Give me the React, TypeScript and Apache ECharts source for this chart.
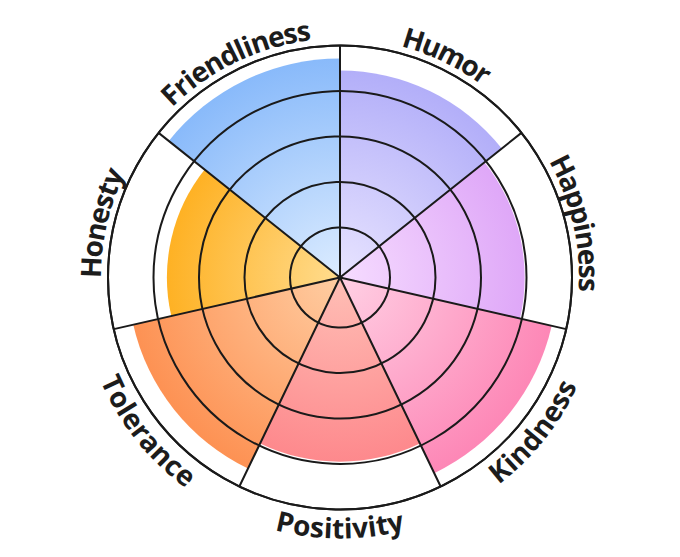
import React, { useEffect, useRef } from "react";
import * as echarts from "echarts";

const CATEGORIES = ["Humor", "Happiness", "Kindness", "Positivity", "Tolerance", "Honesty", "Friendliness"];
const VALUES = [4.46, 3.98, 4.68, 3.97, 4.57, 3.73, 4.72];
const INNER_COLORS = ["#e8e4ff", "#f6dcff", "#ffd0e4", "#ffbfb6", "#ffcda2", "#ffdc8e", "#dcecff"];
const OUTER_COLORS = ["#aca8f8", "#d99af6", "#fd82b3", "#fd7b82", "#fd8c4c", "#fea300", "#84b7fa"];
const VALUE_MAX = 5;
const RING_MIN = -0.099;
const RING_MAX = 5;

const W = 680;
const H = 557;
const CX = 340;
const CY = 277.5;
const R = 232;
const LABEL_R = 250;
const FONT_SIZE = 28;
const FONT_FAMILY = '"Open Sans", "Noto Sans", sans-serif';
const LINE = "#1a1a1a";

function buildLabels() {
  const canvas = document.createElement("canvas");
  const ctx = canvas.getContext("2d")!;
  ctx.font = `bold ${FONT_SIZE}px ${FONT_FAMILY}`;
  const n = CATEGORIES.length;
  const els: any[] = [];
  CATEGORIES.forEach((word, i) => {
    const thetaC = 90 - ((i + 0.5) * 360) / n;
    const rad = (thetaC * Math.PI) / 180;
    const top = Math.sin(rad) > 0;
    const widths = word.split("").map((ch) => ctx.measureText(ch).width * 0.97);
    const total = widths.reduce((a, b) => a + b, 0);
    const span = total / LABEL_R;
    let acc = 0;
    word.split("").forEach((ch, k) => {
      const mid = (acc + widths[k] / 2) / LABEL_R;
      acc += widths[k];
      const th = top ? rad + span / 2 - mid : rad - span / 2 + mid;
      const x = CX + LABEL_R * Math.cos(th);
      const y = CY - LABEL_R * Math.sin(th);
      const rotation = top ? th - Math.PI / 2 : th + Math.PI / 2;
      els.push({
        type: "text",
        x,
        y,
        rotation,
        z: 100,
        style: {
          text: ch,
          fontSize: FONT_SIZE,
          fontWeight: "bold",
          fontFamily: FONT_FAMILY,
          fill: "#1c1c1c",
          align: "center",
          verticalAlign: "middle",
        },
      });
    });
  });
  return els;
}

export default function App() {
  const ref = useRef<HTMLDivElement>(null);
  useEffect(() => {
    document.body.style.margin = "0";
    const chart = echarts.init(ref.current!, null, { renderer: "svg" });
    const data = VALUES.map((v, i) => ({
      value: v,
      itemStyle: {
        color: {
          type: "radial",
          x: CX,
          y: CY,
          r: R,
          global: true,
          colorStops: [
            { offset: 0, color: INNER_COLORS[i] },
            { offset: 1, color: OUTER_COLORS[i] },
          ],
        },
      },
    }));
    const none = "rgba(0,0,0,0)";
    chart.setOption({
      animation: false,
      backgroundColor: "#ffffff",
      polar: [
        { center: [CX, CY], radius: [0, R] },
        { center: [CX, CY], radius: [0, R] },
      ],
      angleAxis: [
        {
          polarIndex: 0,
          type: "category",
          data: CATEGORIES,
          startAngle: 90,
          clockwise: true,
          z: 10,
          axisLine: { show: true, lineStyle: { color: LINE, width: 2 } },
          axisTick: { show: false },
          axisLabel: { show: false },
          splitLine: { show: true, lineStyle: { color: LINE, width: 2 } },
        },
        {
          polarIndex: 1,
          type: "category",
          data: CATEGORIES,
          startAngle: 90,
          show: false,
        },
      ],
      radiusAxis: [
        {
          polarIndex: 0,
          type: "value",
          min: 0,
          max: VALUE_MAX,
          z: 10,
          axisLine: { show: false },
          axisTick: { show: false },
          axisLabel: { show: false },
          splitLine: { show: false },
        },
        {
          polarIndex: 1,
          type: "value",
          min: RING_MIN,
          max: RING_MAX,
          z: 10,
          axisLine: { show: false },
          axisTick: { show: false },
          axisLabel: { show: false },
          splitLine: {
            show: true,
            lineStyle: { color: [none, none, LINE, LINE, LINE, LINE, LINE], width: 2 },
          },
        },
      ],
      series: [
        {
          type: "bar",
          coordinateSystem: "polar",
          polarIndex: 0,
          data,
          barCategoryGap: "0%",
          barWidth: "100%",
          z: 2,
        },
      ],
      graphic: buildLabels(),
    });
    return () => chart.dispose();
  }, []);
  return <div ref={ref} style={{ width: W, height: H }} />;
}
